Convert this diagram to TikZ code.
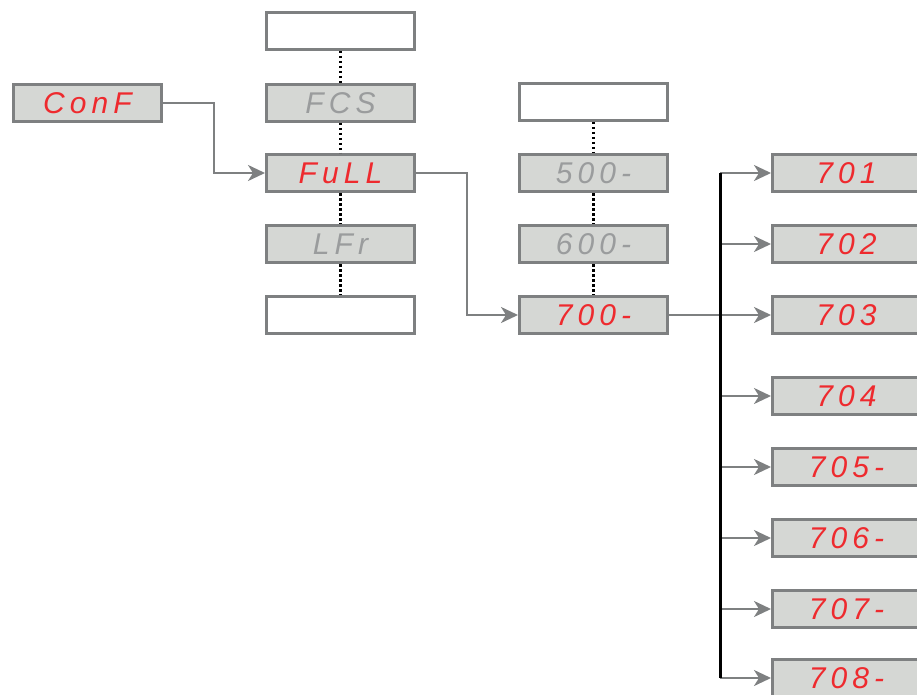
\documentclass[tikz,border=0pt]{standalone}
\usepackage{fontspec}
\usetikzlibrary{arrows.meta}
\newfontfamily\segfont[LetterSpace=17]{Liberation Sans}
\newcommand{\segtext}{\segfont\itshape\fontsize{30}{30}\selectfont}
\definecolor{boxline}{HTML}{7E8081}
\definecolor{boxfill}{HTML}{D5D7D4}
\definecolor{segred}{HTML}{EE2A2E}
\definecolor{seggray}{HTML}{9A9C9D}
\definecolor{linegray}{HTML}{7E8081}
\begin{document}
\begin{tikzpicture}[x=1pt,y=-1pt,
 box/.style={draw=boxline,line width=3pt,fill=boxfill,minimum width=148pt,minimum height=37pt,inner sep=0pt,font=\segtext},
 blank/.style={box,fill=white},
 act/.style={box,text=segred},
 inact/.style={box,text=seggray},
 link/.style={draw=linegray,line width=2.3pt},
 arr/.style={link,-{Stealth[length=17pt,width=16pt,inset=5pt]}},
 dots/.style={draw=black,line width=2.8pt,dash pattern=on 2.5pt off 2.5pt},
 bus/.style={draw=black,line width=3pt}]
\useasboundingbox (0,0) rectangle (917,695);
\node[act] (conf) at (87.5,103) {ConF};
\node[blank] (c2a) at (340.5,31) {};
\node[inact] (fcs) at (340.5,103) {FCS};
\node[act] (full) at (340.5,173) {FuLL};
\node[inact] (lfr) at (340.5,244) {LFr};
\node[blank] (c2e) at (340.5,315) {};
\node[blank] (c3a) at (593.5,102) {};
\node[inact] (n500) at (593.5,173) {500-};
\node[inact] (n600) at (593.5,244) {600-};
\node[act] (n700) at (593.5,315) {700-};
\node[act] (n701) at (846.5,173) {701};
\node[act] (n702) at (846.5,244) {702};
\node[act] (n703) at (846.5,315) {703};
\node[act] (n704) at (846.5,396) {704};
\node[act] (n705) at (846.5,467) {705-};
\node[act] (n706) at (846.5,538) {706-};
\node[act] (n707) at (846.5,609) {707-};
\node[act] (n708) at (846.5,678) {708-};
\draw[dots] (c2a) -- (fcs);
\draw[dots] (fcs) -- (full);
\draw[dots] (full) -- (lfr);
\draw[dots] (lfr) -- (c2e);
\draw[dots] (c3a) -- (n500);
\draw[dots] (n500) -- (n600);
\draw[dots] (n600) -- (n700);
\draw[arr] (conf.east) -- ++(51,0) |- (full.west);
\draw[arr] (full.east) -- ++(51,0) |- (n700.west);
\draw[arr] (n700) -- (n703);
\coordinate (bt) at (720,173);
\coordinate (bb) at (720,678);
\foreach \n in {n701,n702,n704,n705,n706,n707,n708}
  \draw[arr] (\n.west -| bt) -- (\n.west);
\draw[bus] (bt) -- (bb);
\end{tikzpicture}
\end{document}
